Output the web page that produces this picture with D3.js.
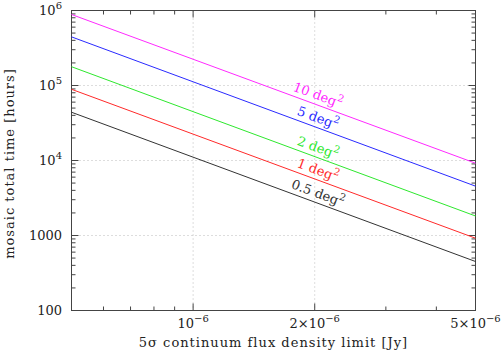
<!DOCTYPE html>
<html lang="en">
<head>
    <meta charset="UTF-8">
    <title>Mosaic total time</title>
    <script src="https://d3js.org/d3.v7.min.js"></script>
    <style>
        body {
            margin: 0;
            background-color: #fff;
        }
        text {
            font-family: "DejaVu Serif", serif;
            fill: #222;
        }
        .title {
            font-size: 13px;
            letter-spacing: 1px;
        }
        .grid {
            stroke: #bbb;
            stroke-width: 1px;
            stroke-dasharray: 1, 3;
        }
        .tick {
            stroke: #444;
            stroke-width: 1px;
        }
    </style>
</head>
<body>
    <svg id="chart" width="502" height="354"></svg>
    <script>
        // ends of each line: flux limit (Jy) at left and right edge
        const sigmaEnds = [5e-7, 5e-6];
        // mosaic areas and total time (hours) at the two ends
        const areas = ["0.5", "1", "2", "5", "10"];
        const time05 = [44000, 450];
        const time1 = [89000, 920];
        const time2 = [178000, 1820];
        const time5 = [445000, 4550];
        const time10 = [885000, 9200];
        const colors = ["#333", "#ff2a2a", "#2ee82e", "#2a2aff", "#ff2aff"];

        const xTicks = [1e-6, 2e-6, 5e-6];
        const xTickLabels = [["10", "\u22126"], ["2\u00d710", "\u22126"], ["5\u00d710", "\u22126"]];
        const xMinor = [6e-7, 7e-7, 8e-7, 9e-7, 3e-6, 4e-6];
        const yTicks = [100, 1000, 1e4, 1e5, 1e6];
        const yTickLabels = [["100", ""], ["1000", ""], ["10", "4"], ["10", "5"], ["10", "6"]];
        const xGrid = [1e-6, 2e-6];
        const yGrid = [1000, 1e4, 1e5];
        const labelAt = 2e-6;

        const series = [time05, time1, time2, time5, time10];

        const svg = d3.select("#chart");
        const pl = 71.5, pr = 475.5, pt = 10.5, pb = 310.5;

        const x = d3.scaleLog().domain([5e-7, 5e-6]).range([pl, pr]);
        const y = d3.scaleLog().domain([100, 1e6]).range([pb, pt]);

        // grid
        xGrid.forEach(v => {
            svg.append("line").attr("class", "grid")
                .attr("x1", x(v)).attr("x2", x(v))
                .attr("y1", pt).attr("y2", pb);
        });
        yGrid.forEach(v => {
            svg.append("line").attr("class", "grid")
                .attr("x1", pl).attr("x2", pr)
                .attr("y1", y(v)).attr("y2", y(v));
        });

        // ticks on all four sides, pointing inward
        const tick = (x1, y1, x2, y2) => svg.append("line").attr("class", "tick")
            .attr("x1", x1).attr("y1", y1).attr("x2", x2).attr("y2", y2);

        xTicks.concat(xMinor).forEach(v => {
            const len = xTicks.includes(v) ? 7 : 4;
            tick(x(v), pb, x(v), pb - len);
            tick(x(v), pt, x(v), pt + len);
        });
        yTicks.forEach((v, i) => {
            tick(pl, y(v), pl + 7, y(v));
            tick(pr, y(v), pr - 7, y(v));
            if (i < yTicks.length - 1) {
                for (let m = 2; m <= 9; m++) {
                    tick(pl, y(v * m), pl + 4, y(v * m));
                    tick(pr, y(v * m), pr - 4, y(v * m));
                }
            }
        });

        // frame
        svg.append("rect")
            .attr("x", pl).attr("y", pt)
            .attr("width", pr - pl).attr("height", pb - pt)
            .attr("fill", "none").attr("stroke", "#444");

        // tick labels
        xTicks.forEach((v, i) => {
            const t = svg.append("text")
                .attr("x", x(v)).attr("y", 328)
                .attr("text-anchor", "middle")
                .style("font-size", "13px");
            t.append("tspan").text(xTickLabels[i][0]);
            t.append("tspan").attr("dy", -6).style("font-size", "10px").text(xTickLabels[i][1]);
        });
        yTicks.forEach((v, i) => {
            const t = svg.append("text")
                .attr("x", 62).attr("y", y(v) + 4.5)
                .attr("text-anchor", "end")
                .style("font-size", "13px");
            t.append("tspan").text(yTickLabels[i][0]);
            if (yTickLabels[i][1]) {
                t.append("tspan").attr("dy", -6).style("font-size", "10px").text(yTickLabels[i][1]);
            }
        });

        // lines and their labels
        series.forEach((d, i) => {
            const pts = sigmaEnds.map((s, j) => [x(s), y(d[j])]);
            svg.append("path")
                .attr("d", d3.line()(pts))
                .attr("fill", "none")
                .attr("stroke", colors[i])
                .attr("stroke-width", 1);

            const px = x(labelAt);
            const f = (px - pts[0][0]) / (pts[1][0] - pts[0][0]);
            const py = pts[0][1] + f * (pts[1][1] - pts[0][1]);
            const angle = Math.atan2(pts[1][1] - pts[0][1], pts[1][0] - pts[0][0]) * 180 / Math.PI;
            const t = svg.append("text")
                .attr("transform", `translate(${px},${py}) rotate(${angle})`)
                .attr("y", -5)
                .attr("text-anchor", "middle")
                .style("font-size", "13px")
                .style("fill", colors[i]);
            t.append("tspan").text(areas[i] + " deg");
            t.append("tspan").attr("dy", -6).style("font-size", "10px").text("2");
        });

        // axis titles
        svg.append("text")
            .attr("class", "title")
            .attr("x", (pl + pr) / 2).attr("y", 347)
            .attr("text-anchor", "middle")
            .text("5\u03c3 continuum flux density limit [Jy]");
        svg.append("text")
            .attr("class", "title")
            .attr("transform", `translate(14,${(pt + pb) / 2 + 3}) rotate(-90)`)
            .attr("text-anchor", "middle")
            .text("mosaic total time [hours]");
    </script>
</body>
</html>
